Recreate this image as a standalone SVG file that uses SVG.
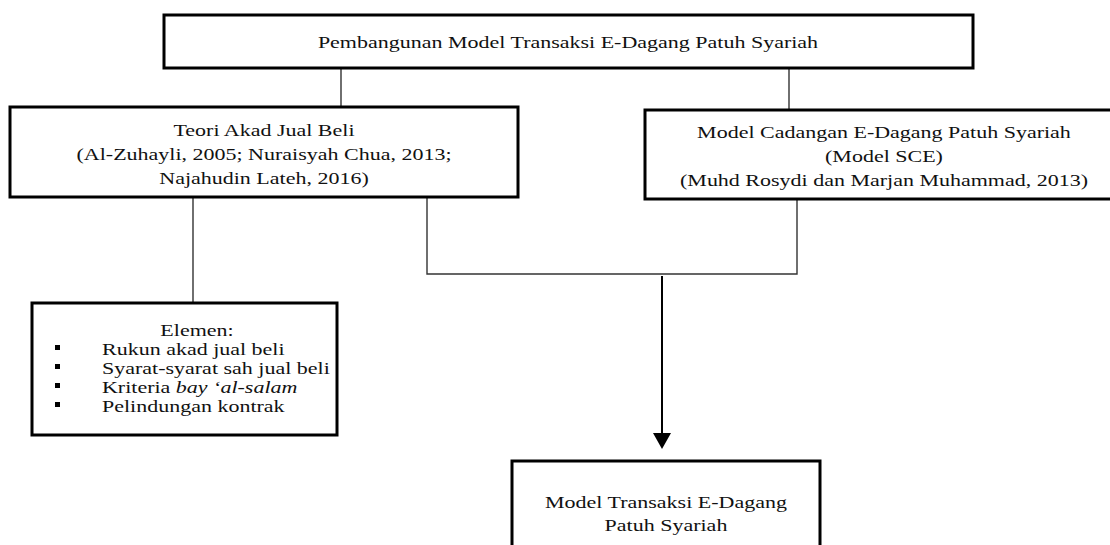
<svg xmlns="http://www.w3.org/2000/svg" width="1110" height="545" viewBox="0 0 1110 545">
<style>
.box{fill:#fff;stroke:#000;stroke-width:3}
.t{font-family:"Liberation Serif","Times New Roman",serif;font-size:22px;fill:#111;text-anchor:middle}
.l{font-family:"Liberation Serif","Times New Roman",serif;font-size:22px;fill:#111}
.c{stroke:#333;stroke-width:1.4;fill:none}
.a{stroke:#000;stroke-width:2;fill:none}
.b{fill:#000}
</style>
<rect width="1110" height="545" fill="#fff"/>
<g id="connectors">
<line class="c" x1="341" y1="68" x2="341" y2="107"/>
<line class="c" x1="789" y1="68" x2="789" y2="110"/>
<line class="c" x1="193" y1="197" x2="193" y2="303"/>
<polyline class="c" points="427,198 427,274 797,274 797,199"/>
<line class="a" x1="662" y1="276" x2="662" y2="435"/>
<polygon points="653,433 671,433 662,449" fill="#000"/>
</g>
<g id="top">
<rect class="box" x="164" y="15" width="809" height="53"/>
<text class="t" transform="scale(1,0.77)" x="568" y="62.34">Pembangunan Model Transaksi E-Dagang Patuh Syariah</text>
</g>
<g id="teori">
<rect class="box" x="10" y="107" width="508" height="90"/>
<text class="t" transform="scale(1,0.77)"><tspan x="264" y="176.62">Teori Akad Jual Beli</tspan><tspan x="264" y="207.79">(Al-Zuhayli, 2005; Nuraisyah Chua, 2013;</tspan><tspan x="264" y="238.96">Najahudin Lateh, 2016)</tspan></text>
</g>
<g id="sce">
<rect class="box" x="645" y="110" width="480" height="89"/>
<text class="t" transform="scale(1,0.77)"><tspan x="884" y="179.22">Model Cadangan E-Dagang Patuh Syariah</tspan><tspan x="884" y="210.39">(Model SCE)</tspan><tspan x="884" y="241.56">(Muhd Rosydi dan Marjan Muhammad, 2013)</tspan></text>
</g>
<g id="elemen">
<rect class="box" x="32" y="303" width="305" height="132"/>
<rect class="b" x="55" y="345" width="5" height="5"/>
<rect class="b" x="55" y="364" width="5" height="5"/>
<rect class="b" x="55" y="383" width="5" height="5"/>
<rect class="b" x="55" y="402" width="5" height="5"/>
<text class="l" transform="scale(1,0.77)"><tspan x="197" y="436.36" text-anchor="middle">Elemen:</tspan><tspan x="102" y="461.04">Rukun akad jual beli</tspan><tspan x="102" y="485.71">Syarat-syarat sah jual beli</tspan><tspan x="102" y="510.39">Kriteria </tspan><tspan font-style="italic">bay ‘al-salam</tspan><tspan x="102" y="535.06">Pelindungan kontrak</tspan></text>
</g>
<g id="result">
<rect class="box" x="512" y="461" width="308" height="100"/>
<text class="t" transform="scale(1,0.77)"><tspan x="666" y="659.74">Model Transaksi E-Dagang</tspan><tspan x="666" y="689.61">Patuh Syariah</tspan></text>
</g>
</svg>
